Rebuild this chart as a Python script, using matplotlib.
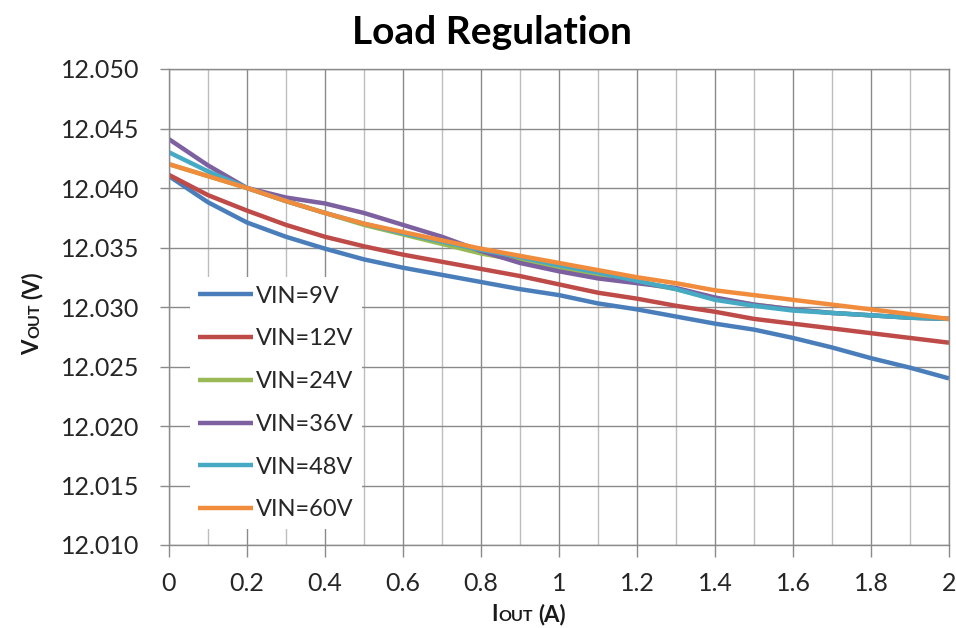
import matplotlib
matplotlib.use("Agg")
import matplotlib.pyplot as plt
from matplotlib.ticker import FixedLocator, FixedFormatter, MultipleLocator

plt.rcParams['font.family'] = ['Lato', 'DejaVu Sans']

# Data
iout = [0.0, 0.1, 0.2, 0.3, 0.4, 0.5, 0.6, 0.7, 0.8, 0.9, 1.0,
        1.1, 1.2, 1.3, 1.4, 1.5, 1.6, 1.7, 1.8, 1.9, 2.0]

vin_9 = [12.0410, 12.0388, 12.0371, 12.0359, 12.0349, 12.0340, 12.0333,
         12.0327, 12.0321, 12.0315, 12.0310, 12.0303, 12.0298, 12.0292,
         12.0286, 12.0281, 12.0274, 12.0266, 12.0257, 12.0249, 12.0240]
vin_12 = [12.0411, 12.0394, 12.0381, 12.0369, 12.0359, 12.0351, 12.0344,
          12.0338, 12.0332, 12.0326, 12.0319, 12.0312, 12.0307, 12.0301,
          12.0296, 12.0290, 12.0286, 12.0282, 12.0278, 12.0274, 12.0270]
vin_24 = [12.0420, 12.0410, 12.0400, 12.0389, 12.0379, 12.0369, 12.0361,
          12.0353, 12.0345, 12.0339, 12.0333, 12.0327, 12.0321, 12.0315,
          12.0307, 12.0302, 12.0298, 12.0295, 12.0293, 12.0291, 12.0290]
vin_36 = [12.0441, 12.0419, 12.0400, 12.0392, 12.0387, 12.0379, 12.0369,
          12.0359, 12.0347, 12.0337, 12.0330, 12.0324, 12.0320, 12.0316,
          12.0308, 12.0302, 12.0298, 12.0295, 12.0293, 12.0291, 12.0290]
vin_48 = [12.0430, 12.0414, 12.0400, 12.0389, 12.0379, 12.0370, 12.0362,
          12.0355, 12.0348, 12.0342, 12.0335, 12.0329, 12.0322, 12.0315,
          12.0306, 12.0301, 12.0297, 12.0295, 12.0293, 12.0291, 12.0290]
vin_60 = [12.0420, 12.0410, 12.0400, 12.0389, 12.0379, 12.0370, 12.0363,
          12.0356, 12.0349, 12.0343, 12.0337, 12.0331, 12.0325, 12.0320,
          12.0314, 12.0310, 12.0306, 12.0302, 12.0298, 12.0294, 12.0290]

series_labels = ["VIN=9V", "VIN=12V", "VIN=24V", "VIN=36V", "VIN=48V", "VIN=60V"]
colors = ["#4A7EBB", "#BE4B48", "#98B954", "#7D60A0", "#46AAC5", "#F08C3C"]

xticks = [0, 0.2, 0.4, 0.6, 0.8, 1.0, 1.2, 1.4, 1.6, 1.8, 2.0]
xtick_labels = ["0", "0.2", "0.4", "0.6", "0.8", "1", "1.2", "1.4", "1.6", "1.8", "2"]
yticks = [12.010, 12.015, 12.020, 12.025, 12.030, 12.035, 12.040, 12.045, 12.050]
ytick_labels = ["12.010", "12.015", "12.020", "12.025", "12.030",
                "12.035", "12.040", "12.045", "12.050"]

W, H = 956, 628
fig = plt.figure(figsize=(W / 100, H / 100), dpi=100)
ax = fig.add_axes([169 / W, 1 - 545 / H, 780 / W, 476 / H])

for ys, lab, c in zip([vin_9, vin_12, vin_24, vin_36, vin_48, vin_60], series_labels, colors):
    ax.plot(iout, ys, color=c, linewidth=3.2, label=lab, solid_capstyle='butt',
            solid_joinstyle='round')

ax.set_xlim(0, 2)
ax.set_ylim(12.010, 12.050)
ax.xaxis.set_major_locator(FixedLocator(xticks))
ax.xaxis.set_major_formatter(FixedFormatter(xtick_labels))
ax.xaxis.set_minor_locator(MultipleLocator(0.1))
ax.yaxis.set_major_locator(FixedLocator(yticks))
ax.yaxis.set_major_formatter(FixedFormatter(ytick_labels))

ax.grid(which='major', color='#8A8A8A', linewidth=1.0)
ax.grid(which='minor', axis='x', color='#BDBDBD', linewidth=1.0)
ax.set_axisbelow(True)
for sp in ax.spines.values():
    sp.set_color('#8A8A8A')
    sp.set_linewidth(1.0)

ax.tick_params(axis='x', which='major', length=8.5, width=1, color='#8A8A8A',
               labelsize=18, labelcolor='#262626', pad=11)
ax.tick_params(axis='x', which='minor', length=0)
ax.tick_params(axis='y', length=6.5, width=1, color='#8A8A8A',
               labelsize=18, labelcolor='#262626', pad=15)

leg = ax.legend(loc='upper left', bbox_to_anchor=(0.027, 0.562), borderaxespad=0,
                frameon=True, facecolor='white', edgecolor='none', framealpha=1,
                fontsize=17, handlelength=2.3, handletextpad=0.15,
                labelspacing=0.92, borderpad=0.35)
for t in leg.get_texts():
    t.set_color('#262626')

fig.text(492 / W, 1 - 44 / H, "Load Regulation", ha='center', va='baseline',
         fontsize=28, fontweight='bold', color='black')

# axis titles with small-caps subscript, built from pieces
renderer = fig.canvas.get_renderer()


def piece_label(pieces, x0, y0, vertical):
    pos = 0.0
    for s, size, gap in pieces:
        t = fig.text(0, 0, s, fontsize=size, fontweight='bold', color='#1a1a1a',
                     ha='left', va='baseline', rotation=90 if vertical else 0,
                     rotation_mode='anchor')
        bb = t.get_window_extent(renderer)
        w = bb.height if vertical else bb.width
        if vertical:
            t.set_position((x0 / W, 1 - (y0 - pos) / H))
        else:
            t.set_position(((x0 + pos) / W, 1 - y0 / H))
        pos += w + gap


piece_label([("I", 16, 1), ("OUT", 11.5, 5), ("(A)", 16, 0)], 491, 621, False)
piece_label([("V", 16, 1), ("OUT", 11.5, 5), ("(V)", 16, 0)], 39, 355, True)

fig.savefig("out.png", dpi=100)
